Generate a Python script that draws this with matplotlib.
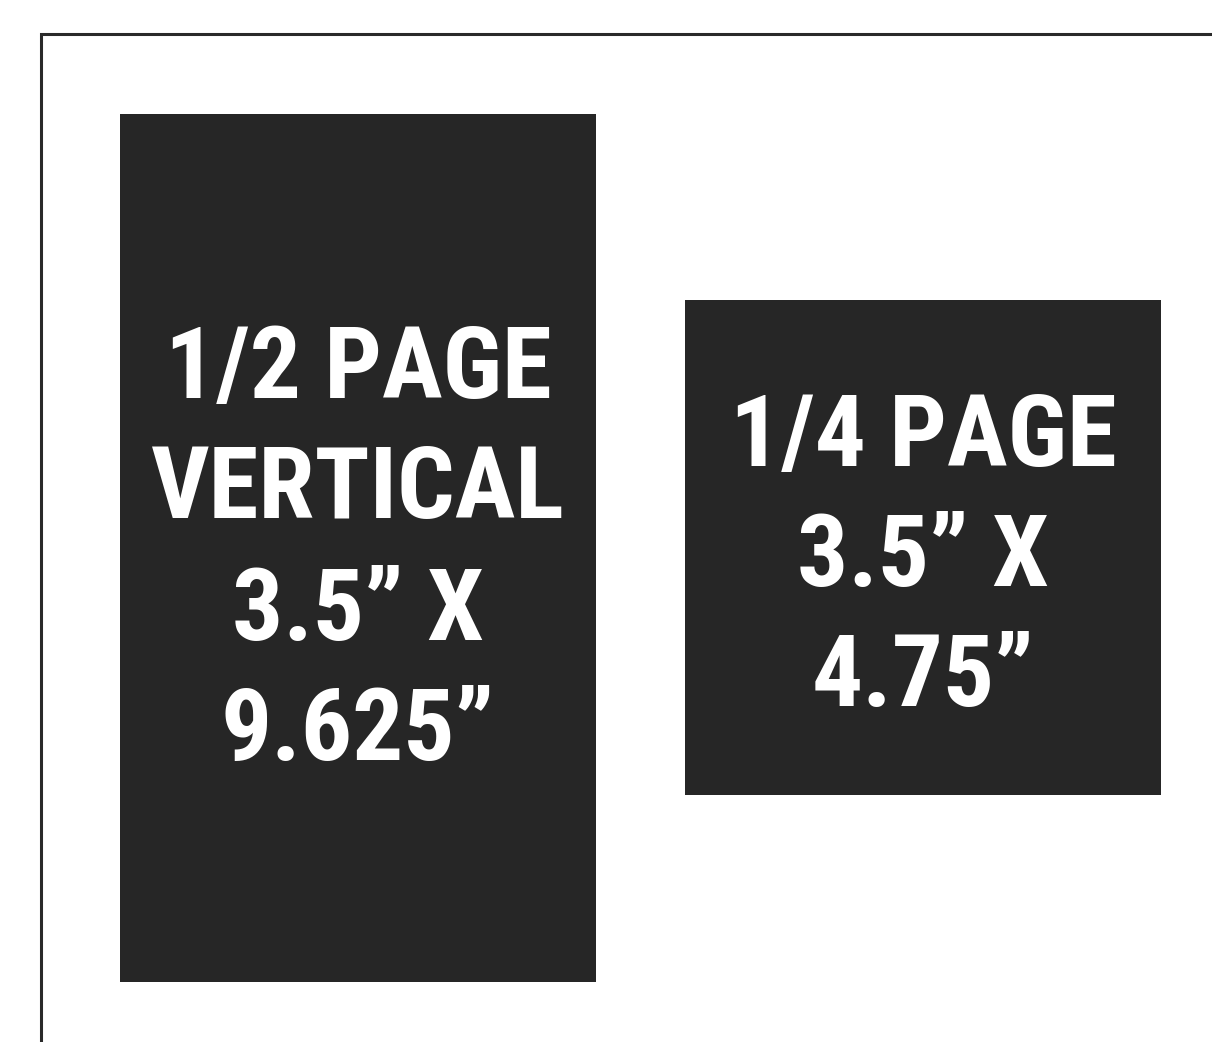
import matplotlib
matplotlib.use('Agg')
import matplotlib.pyplot as plt
from matplotlib.patches import Rectangle

# ad sizes
ad_titles = ['1/2 PAGE\nVERTICAL', '1/4 PAGE']
ad_widths = ['3.5\u201d', '3.5\u201d']
ad_heights = ['9.625\u201d', '4.75\u201d']

W, H = 1212, 1042
fig = plt.figure(figsize=(W / 100, H / 100), dpi=100)
ax = fig.add_axes([0, 0, 1, 1])
ax.set_xlim(0, W)
ax.set_ylim(H, 0)
ax.axis('off')

# page outline (top + left edge)
ax.plot([41, 41, W + 5], [H + 5, 34, 34], color='#2a2a2a', lw=2.2, solid_joinstyle='miter')

boxes = [(120, 114, 476, 868), (685, 300, 476, 495)]
baselines = [[398, 518, 640, 760], [466, 586, 706]]
dark = '#262626'

for i, (x, y, w, h) in enumerate(boxes):
    ax.add_patch(Rectangle((x, y), w, h, facecolor=dark, edgecolor='none'))
    lines = ad_titles[i].split('\n') + [ad_widths[i] + ' X', ad_heights[i]]
    cx = x + w / 2
    for line, by in zip(lines, baselines[i]):
        ax.text(cx, by, line, ha='center', va='baseline', color='white',
                fontsize=73, fontweight='bold',
                family=['Roboto Condensed', 'Liberation Sans', 'DejaVu Sans'])

fig.savefig('out.png', dpi=100, facecolor='white')
